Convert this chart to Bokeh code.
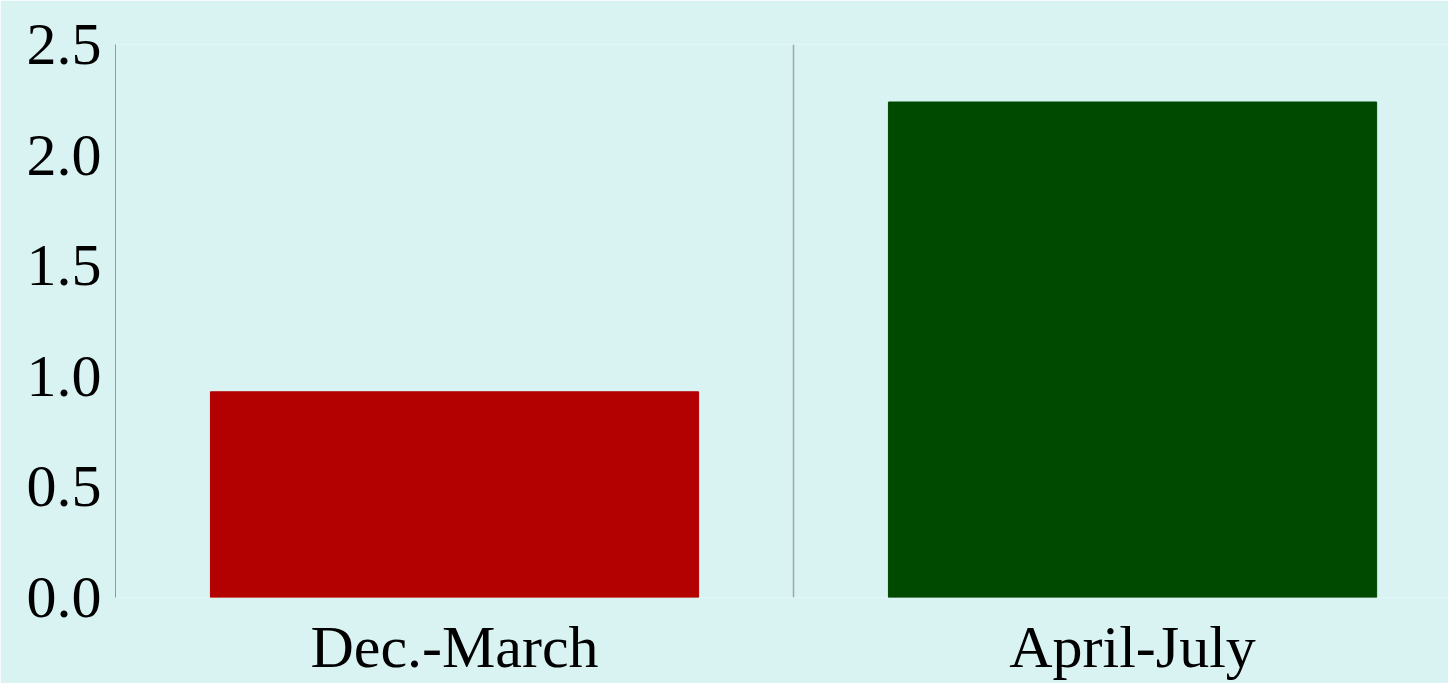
from bokeh.plotting import figure
from bokeh.models import Range1d, FixedTicker, Span
from bokeh.embed import file_html
from bokeh.resources import INLINE

categories = ["Dec.-March", "April-July"]
values = [0.93, 2.24]
colors = ["#b30000", "#004a00"]
y_ticks = [0.0, 0.5, 1.0, 1.5, 2.0, 2.5]

xpos = [i + 0.5 for i in range(len(categories))]

p = figure(width=1448, height=683, output_backend="svg", toolbar_location=None,
           x_range=Range1d(0, 1.966), y_range=Range1d(0, 2.5),
           min_border_left=115, min_border_top=44, min_border_bottom=86, min_border_right=0)
p.background_fill_color = "#d9f2f2"
p.border_fill_color = "#d9f2f2"
p.outline_line_color = None

p.vbar(x=xpos, top=values, width=0.72, color=colors)

sep = Span(location=1.0, dimension="height", line_color="#a0a8a8", line_width=1.5)
p.add_layout(sep)

p.xgrid.visible = False
p.ygrid.visible = False

p.yaxis.ticker = FixedTicker(ticks=y_ticks)
p.yaxis.major_label_overrides = {t: f"{t:.1f}" for t in y_ticks}
p.yaxis.axis_line_color = "#999999"
p.yaxis.axis_line_width = 1
p.yaxis.major_tick_line_color = None
p.yaxis.minor_tick_line_color = None
p.yaxis.major_label_text_font = "Liberation Serif"
p.yaxis.major_label_text_font_size = "60px"
p.yaxis.major_label_text_color = "#000000"
p.yaxis.major_label_standoff = 8

p.xaxis.ticker = FixedTicker(ticks=xpos)
p.xaxis.major_label_overrides = {x: c for x, c in zip(xpos, categories)}
p.xaxis.axis_line_color = None
p.xaxis.major_tick_line_color = None
p.xaxis.minor_tick_line_color = None
p.xaxis.major_label_text_font = "Liberation Serif"
p.xaxis.major_label_text_font_size = "60px"
p.xaxis.major_label_text_color = "#000000"
p.xaxis.major_label_standoff = 10

open("out.html", "w").write(file_html(p, INLINE))
